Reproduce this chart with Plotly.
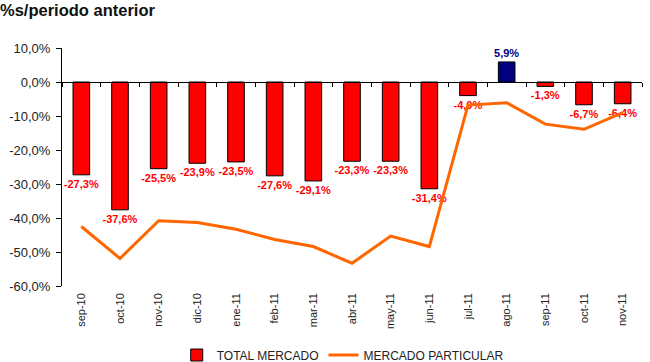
import plotly.graph_objects as go

categories = ["sep-10", "oct-10", "nov-10", "dic-10", "ene-11", "feb-11", "mar-11",
              "abr-11", "may-11", "jun-11", "jul-11", "ago-11", "sep-11", "oct-11", "nov-11"]
total_mercado = [-27.3, -37.6, -25.5, -23.9, -23.5, -27.6, -29.1, -23.3, -23.3, -31.4,
                 -4.0, 5.9, -1.3, -6.7, -6.4]
mercado_particular = [-42.5, -51.9, -40.8, -41.3, -43.3, -46.3, -48.4, -53.3, -45.3, -48.4,
                      -6.8, -6.1, -12.4, -13.9, -9.0]
y_ticks = [10, 0, -10, -20, -30, -40, -50, -60]

FONT = "Liberation Sans, Arial, sans-serif"
RED = "#FF0000"
NAVY = "#000080"
ORANGE = "#FF6600"

bar_colors = [NAVY if v > 0 else RED for v in total_mercado]
labels = [f"{v:.1f}".replace(".", ",") + "%" for v in total_mercado]

fig = go.Figure()
fig.add_trace(go.Bar(
    x=categories, y=total_mercado, name="TOTAL MERCADO",
    marker=dict(color=bar_colors, line=dict(color="#000000", width=1)),
    text=labels, textposition="outside", constraintext="none", cliponaxis=False,
    textfont=dict(family=FONT, size=11, color=bar_colors, weight="bold"),
    outsidetextfont=dict(family=FONT, size=11, color=bar_colors, weight="bold"),
))
fig.add_trace(go.Scatter(
    x=categories, y=mercado_particular, name="MERCADO PARTICULAR",
    mode="lines", line=dict(color=ORANGE, width=3),
))
# dummy trace to carry the zero-crossing category axis
fig.add_trace(go.Scatter(
    x=categories, y=[None] * len(categories), xaxis="x2", showlegend=False,
    hoverinfo="skip", mode="lines",
))

fig.update_layout(
    width=650, height=362,
    margin=dict(l=62, r=8, t=48, b=76, autoexpand=False),
    paper_bgcolor="white", plot_bgcolor="white",
    separators=",.",
    bargap=0.57,
    font=dict(family=FONT, color="#222222", size=12),
    title=dict(text="<b>%s/periodo anterior</b>", x=0.0, xanchor="left", xref="container",
               y=0.972, yanchor="middle", pad=dict(l=0, t=0, b=0, r=0),
               font=dict(family=FONT, size=16.5, color="#111111")),
    xaxis=dict(type="category", showline=False, ticks="", showgrid=False, automargin=False,
               tickangle=-90, ticklabelstandoff=4, tickfont=dict(size=11, color="#222222")),
    xaxis2=dict(type="category", overlaying="x", matches="x", anchor="free",
                position=60 / 70, side="bottom", showline=True, linecolor="#000000",
                linewidth=1, ticks="outside", ticklen=4, tickcolor="#000000",
                tickson="boundaries", showticklabels=False, showgrid=False,
                automargin=False),
    yaxis=dict(range=[-60, 10], tickvals=y_ticks,
               ticktext=[f"{v:.1f}".replace(".", ",") + "%" for v in y_ticks],
               showline=True, linecolor="#000000", linewidth=1, ticks="outside",
               ticklen=5, tickcolor="#000000", showgrid=False, zeroline=False,
               ticklabelstandoff=3,
               automargin=False, tickfont=dict(size=13, color="#222222")),
    legend=dict(orientation="h", x=0.484, xanchor="center", y=-0.29, yanchor="middle",
                font=dict(size=12, color="#222222"), traceorder="normal"),
    showlegend=True,
)

fig.write_html("out.html", config={"displayModeBar": False},
               post_script="document.body.style.margin='0';")
